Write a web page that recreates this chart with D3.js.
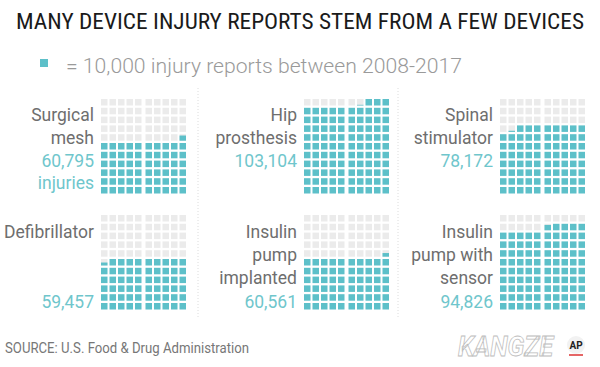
<!DOCTYPE html>
<html><head><meta charset="utf-8">
<script src="https://cdn.jsdelivr.net/npm/d3@7"></script>
<style>body{margin:0;background:#fff} svg{display:block}</style>
</head><body>
<script>
// ---- data ----
const titleText = "MANY DEVICE INJURY REPORTS STEM FROM A FEW DEVICES";
const legendText = "= 10,000 injury reports between 2008-2017";
const sourceText = "SOURCE: U.S. Food & Drug Administration";
const devices = ["Surgical mesh","Hip prosthesis","Spinal stimulator","Defibrillator","Insulin pump implanted","Insulin pump with sensor"];
const labelLines = [["Surgical","mesh"],["Hip","prosthesis"],["Spinal","stimulator"],["Defibrillator"],["Insulin","pump","implanted"],["Insulin","pump with","sensor"]];
const injuries = [60795,103104,78172,59457,60561,94826];
const valueLabels = ["60,795","103,104","78,172","59,457","60,561","94,826"];
const valueSuffix = ["injuries","","","","",""];
const unitsPerSquare = 1000;
const gridCols = 10, gridRows = 11;

// ---- style / layout ----
const W = 600, H = 367;
const teal = "#5dc0c9", tealText = "#6fc6cc", grayCell = "#ebebeb", labelColor = "#6e6e6e";
const cell = 6.5, pitchX = 8.5, pitchY = 8.8, groupGap = 2;
const panelX = [101, 304, 500];
const panelY = [99, 215];

const svg = d3.select("body").append("svg").attr("width", W).attr("height", H)
  .style("font-family", "Roboto, 'Liberation Sans', sans-serif");

// title
svg.append("text").attr("x", 16).attr("y", 28.5)
  .attr("font-family", "'Liberation Sans Narrow', 'Roboto Condensed', Roboto, sans-serif")
  .attr("font-size", 21.5).attr("fill", "#1a1a1a")
  .attr("textLength", 568).attr("lengthAdjust", "spacingAndGlyphs")
  .text(titleText);

// legend
svg.append("rect").attr("x", 40).attr("y", 59).attr("width", 8).attr("height", 8).attr("fill", teal);
svg.append("text").attr("x", 66).attr("y", 73).attr("font-size", 21).attr("fill", "#9a9a9a")
  .attr("font-weight", 300)
  .attr("textLength", 396).attr("lengthAdjust", "spacingAndGlyphs")
  .text(legendText);

// separators
[198, 398].forEach(x => {
  svg.append("line").attr("x1", x).attr("x2", x).attr("y1", 88).attr("y2", 318)
    .attr("stroke", "#dcdcdc").attr("stroke-dasharray", "1,2");
});

const colScale = d3.scaleLinear().domain([0, gridCols - 1]).range([0, (gridCols - 1) * pitchX]);
const rowScale = d3.scaleLinear().domain([0, gridRows - 1]).range([0, (gridRows - 1) * pitchY]);

devices.forEach((name, i) => {
  const x0 = panelX[i % 3], y0 = panelY[Math.floor(i / 3)];
  const g = svg.append("g").attr("transform", `translate(${x0},${y0})`);
  const units = injuries[i] / unitsPerSquare;
  const full = Math.floor(units), frac = units - full;
  const cells = d3.range(gridCols * gridRows).map(k => {
    const rowFromBottom = Math.floor(k / gridCols), colFromRight = k % gridCols;
    const col = gridCols - 1 - colFromRight, row = gridRows - 1 - rowFromBottom;
    return { k, col, row, fill: k < full ? 1 : (k === full ? frac : 0) };
  });
  const cx = d => colScale(d.col) + (d.col >= 5 ? groupGap : 0);
  g.selectAll("rect.bg").data(cells).join("rect").attr("class", "bg")
    .attr("x", cx).attr("y", d => rowScale(d.row))
    .attr("width", cell).attr("height", cell)
    .attr("fill", d => d.fill >= 1 ? teal : grayCell);
  g.selectAll("rect.part").data(cells.filter(d => d.fill > 0 && d.fill < 1)).join("rect").attr("class", "part")
    .attr("x", cx).attr("y", d => rowScale(d.row) + cell * (1 - d.fill))
    .attr("width", cell).attr("height", d => cell * d.fill)
    .attr("fill", teal);

  // labels
  const tx = x0 - 7;
  const t = svg.append("g").attr("font-size", 17.5).attr("text-anchor", "end");
  if (i < 3) {
    const lh = 22.8, b0 = 121;
    labelLines[i].forEach((ln, j) => t.append("text").attr("x", tx).attr("y", b0 + j * lh).attr("fill", labelColor).text(ln));
    t.append("text").attr("x", tx).attr("y", b0 + 2 * lh).attr("fill", tealText).text(valueLabels[i]);
    if (valueSuffix[i]) t.append("text").attr("x", tx).attr("y", b0 + 3 * lh).attr("fill", tealText).text(valueSuffix[i]);
  } else {
    const lh = 23.3, b0 = 237.5;
    labelLines[i].forEach((ln, j) => t.append("text").attr("x", tx).attr("y", b0 + j * lh).attr("fill", labelColor).text(ln));
    t.append("text").attr("x", tx).attr("y", 307.5).attr("fill", tealText).text(valueLabels[i]);
  }
});

// source
svg.append("text").attr("x", 5).attr("y", 353).attr("font-size", 15).attr("fill", "#777")
  .attr("font-family", "'Liberation Sans Narrow', Roboto, sans-serif")
  .attr("textLength", 244).attr("lengthAdjust", "spacingAndGlyphs")
  .text(sourceText);

// watermark + AP mark
svg.append("text").attr("x", 458).attr("y", 356).attr("font-size", 27).attr("font-weight", 700)
  .attr("font-style", "italic").attr("fill", "#fff").attr("stroke", "#bdbdbd").attr("stroke-width", 0.8)
  .attr("textLength", 95).attr("lengthAdjust", "spacingAndGlyphs").text("KANGZE");
svg.append("circle").attr("cx", 576).attr("cy", 345).attr("r", 9).attr("fill", "#f2f2f2");
svg.append("text").attr("x", 576).attr("y", 349).attr("text-anchor", "middle").attr("font-size", 10)
  .attr("font-weight", 700).attr("fill", "#222").text("AP");
svg.append("line").attr("x1", 569).attr("x2", 583).attr("y1", 355).attr("y2", 355).attr("stroke", "#d33").attr("stroke-width", 1.5);
</script>
</body></html>
